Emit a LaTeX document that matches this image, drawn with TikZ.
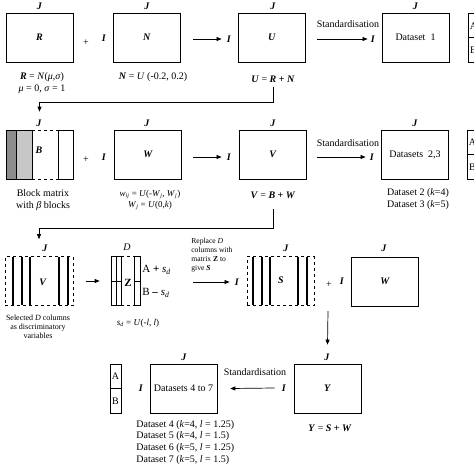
\documentclass[tikz,border=0pt]{standalone}
\usepackage{fontspec}
\setmainfont{Liberation Serif}
\usetikzlibrary{arrows.meta}
\newcommand{\mybi}[1]{\textbf{\textit{#1}}}
\begin{document}
\begin{tikzpicture}[x=1pt,y=-1pt,
  line width=0.7pt,
  mat/.style={draw,minimum width=67pt,minimum height=49pt,inner sep=0pt,font=\fontsize{10}{12}\selectfont},
  dmat/.style={draw,dashed,minimum width=67pt,minimum height=49pt,inner sep=0pt},
  abbox/.style={draw,minimum width=11pt,minimum height=49pt,inner sep=0pt},
  lbl/.style={inner sep=0pt,font=\fontsize{10}{11.6}\selectfont},
  small/.style={inner sep=0pt,font=\fontsize{9}{10.5}\selectfont},
  tiny/.style={inner sep=0pt,font=\fontsize{7.6}{9}\selectfont},
  bar/.style={line width=2.6pt},
  arr/.style={-{Triangle[length=5pt,width=4pt]},line width=0.7pt}]
\useasboundingbox (0,0) rectangle (474,474);
\clip (0,0) rectangle (474,474);

% ---------- Row 1 ----------
\node[mat] (R) at (39.5,37.5) {\mybi{R}};
\node[lbl] at (39.5,6.5) {\mybi{J}};
\node[lbl] (p1) at (86,43) {+};
\node[lbl] (IN) at (104,38) {\mybi{I}};
\node[mat] (N) at (147,37.5) {\mybi{N}};
\node[lbl] at (147,6.5) {\mybi{J}};
\node[lbl] (IU) at (229,39) {\mybi{I}};
\node[mat] (U) at (272,37.5) {\mybi{U}};
\node[lbl] at (273,6.5) {\mybi{J}};
\node[lbl] (st1) at (348,24) {Standardisation};
\node[lbl] (ID1) at (373,39) {\mybi{I}};
\node[mat] (D1) at (415.5,37.5) {Dataset\ \ 1};
\node[lbl] at (415.5,6.5) {\mybi{J}};
\node[abbox] (AB1) at (473.5,37.5) {};
\draw (AB1.west) -- (AB1.east);
\node[lbl] at (473.5,26) {A};
\node[lbl] at (473.5,50) {B};

\node[lbl,align=center] (Rcap) at (42,83) {\mybi{R} = \textit{N}(\textit{μ},\textit{σ})\\\textit{μ} = 0, \textit{σ} = 1};
\node[lbl] (Ncap) at (153,77) {\mybi{N} = \textit{U} (-0.2, 0.2)};
\node[lbl] (Ucap) at (273,79) {\mybi{U} = \mybi{R} \textbf{+} \mybi{N}};

\draw[arr] ([xshift=12pt]N.east |- IU.west) -- ([xshift=-5pt]IU.west);
\draw[arr] ([xshift=11pt]U.east |- ID1.west) -- ([xshift=-3pt]ID1.west);

% ---------- Row 2 ----------
\filldraw[fill=black!45] (6,130) rectangle (16,179);
\filldraw[fill=black!22] (16,130) rectangle (32,179);
\draw (58,130) rectangle (73,179);
\draw[dashed] (32,130) -- (58,130) (32,179) -- (58,179);
\node[minimum width=67pt,minimum height=49pt,inner sep=0pt] (B) at (39.5,154.5) {};
\node[lbl] at (39,150) {\mybi{B}};
\node[lbl] at (39,123) {\mybi{J}};
\draw[arr] ([yshift=-4pt]Ucap.south) |- ([yshift=27pt]B.north) -- ([yshift=18pt]B.north);

\node[lbl] (p2) at (86,160) {+};
\node[lbl] (IW) at (104,157) {\mybi{I}};
\node[mat] (W) at (148,154.5) {\mybi{W}};
\node[lbl] at (147,123) {\mybi{J}};
\node[lbl] (IV) at (229,157) {\mybi{I}};
\node[mat] (V) at (273,154.5) {\mybi{V}};
\node[lbl] at (273,123) {\mybi{J}};
\node[lbl] (st2) at (348,143) {Standardisation};
\node[lbl] (ID2) at (372,157) {\mybi{I}};
\node[mat] (D2) at (415,154.5) {Datasets\ \ 2,3};
\node[lbl] at (415,123) {\mybi{J}};
\node[abbox] (AB2) at (472.5,154.5) {};
\draw (AB2.west) -- (AB2.east);
\node[lbl] at (472.5,142) {A};
\node[lbl] at (472.5,167) {B};

\node[lbl,align=center] at (43,200) {Block matrix\\with \textit{β} blocks};
\node[small,align=center] at (150,200) {\textit{w}\textsubscript{\textit{ij}} = \textit{U}(-\textit{W}\textsubscript{\textit{j}}, \textit{W}\textsubscript{\textit{j}})\\\textit{W}\textsubscript{\textit{j}} = \textit{U}(0,\textit{k})};
\node[lbl] (Vcap) at (273,195) {\mybi{V} = \mybi{B} \textbf{+} \mybi{W}};
\node[lbl,align=center] at (418,199) {Dataset 2 (\textit{k}=4)\\Dataset 3 (\textit{k}=5)};

\draw[arr] ([xshift=11pt]W.east |- IV.west) -- ([xshift=-5pt]IV.west);
\draw[arr] ([xshift=10pt]V.east |- ID2.west) -- ([xshift=-4pt]ID2.west);

% ---------- Row 3 ----------
\node[dmat,minimum width=68pt] (Vs) at (39,281) {};
\foreach \x in {13,22,30,59,68} \draw[bar] (\x,256.8) -- (\x,305.2);
\node[lbl] at (43,282) {\mybi{V}};
\node[lbl] at (45,248) {\mybi{J}};
\draw[arr] ([yshift=-10pt]Vcap.south) |- ([yshift=28pt]Vs.north) -- ([yshift=17pt]Vs.north);
\node[tiny,align=center,font=\fontsize{8}{9}\selectfont] at (38,327) {Selected \textit{D} columns\\as discriminatory\\variables};

\node[minimum width=29pt,minimum height=49pt,inner sep=0pt] (Z) at (125.5,281) {};
\draw (111,256.5) rectangle (121,305.5);
\draw (116,256.5) -- (116,305.5);
\draw (111,281) -- (121,281);
\draw (134,256.5) rectangle (140,305.5);
\draw (134,281) -- (140,281);
\draw[dashed] (121,256.5) -- (134,256.5) (121,305.5) -- (134,305.5);
\node[lbl,font=\fontsize{11}{13}\selectfont] at (128,283) {\textbf{Z}};
\node[lbl] at (127,247) {\textit{D}};
\node[lbl,anchor=west,font=\fontsize{11}{13}\selectfont] at (142,270) {A \textbf{+} \textit{s}\textsubscript{\textit{d}}};
\node[lbl,anchor=west,font=\fontsize{11}{13}\selectfont] at (142,293) {B \textbf{–} \textit{s}\textsubscript{\textit{d}}};
\node[small] at (138,323) {\textit{s}\textsubscript{\textit{d}} = \textit{U}(-\textit{l}, \textit{l})};
\draw[arr] ([xshift=13pt]Vs.east) -- ([xshift=-11pt]Z.west);

\node[tiny,align=left,anchor=north west] at (191,238) {Replace \textit{D}\\columns with\\matrix \textbf{Z} to\\give \mybi{S}};
\node[lbl] (IS) at (237,282) {\mybi{I}};
\draw[arr] ([xshift=53pt]Z.east |- IS.west) -- ([xshift=-5pt]IS.west);

\node[dmat] (S) at (280.5,281) {};
\foreach \x in {253,262,270,298,307} \draw[bar] (\x,256.8) -- (\x,305.2);
\node[lbl] at (281,280) {\mybi{S}};
\node[lbl] at (286,248) {\mybi{J}};
\node[lbl] (p3) at (329,285) {+};
\node[lbl] (IW2) at (342,281) {\mybi{I}};
\node[mat] (W2) at (385,281.5) {\mybi{W}};
\node[lbl] at (384,248) {\mybi{J}};

% ---------- Row 4 ----------
\node[mat] (Y) at (327.5,388.5) {\mybi{Y}};
\node[lbl] at (327,357) {\mybi{J}};
\node[lbl] (IY) at (284,388) {\mybi{I}};
\node[lbl] (Ycap) at (330,428) {\mybi{Y} = \mybi{S} \textbf{+} \mybi{W}};
\coordinate (dn) at (328,311);
\draw[arr] (dn) -- ([yshift=19pt]Y.north);

\node[lbl] (st3) at (255,372) {Standardisation};
\node[mat] (D47) at (183.5,388.5) {Datasets 4 to 7};
\node[lbl] at (184,357) {\mybi{J}};
\node[lbl] (ID47) at (141,388) {\mybi{I}};
\draw[arr] ([xshift=-7pt]IY.west) -- ([xshift=13pt]D47.east);

\node[abbox] (AB3) at (115.5,388.5) {};
\draw (AB3.west) -- (AB3.east);
\node[lbl] at (115.5,376) {A};
\node[lbl] at (115.5,401) {B};

\node[lbl,align=left,anchor=north west] at (136,420) {Dataset 4 (\textit{k}=4, \textit{l} = 1.25)\\Dataset 5 (\textit{k}=4, \textit{l} = 1.5)\\Dataset 6 (\textit{k}=5, \textit{l} = 1.25)\\Dataset 7 (\textit{k}=5, \textit{l} = 1.5)};
\end{tikzpicture}
\end{document}
